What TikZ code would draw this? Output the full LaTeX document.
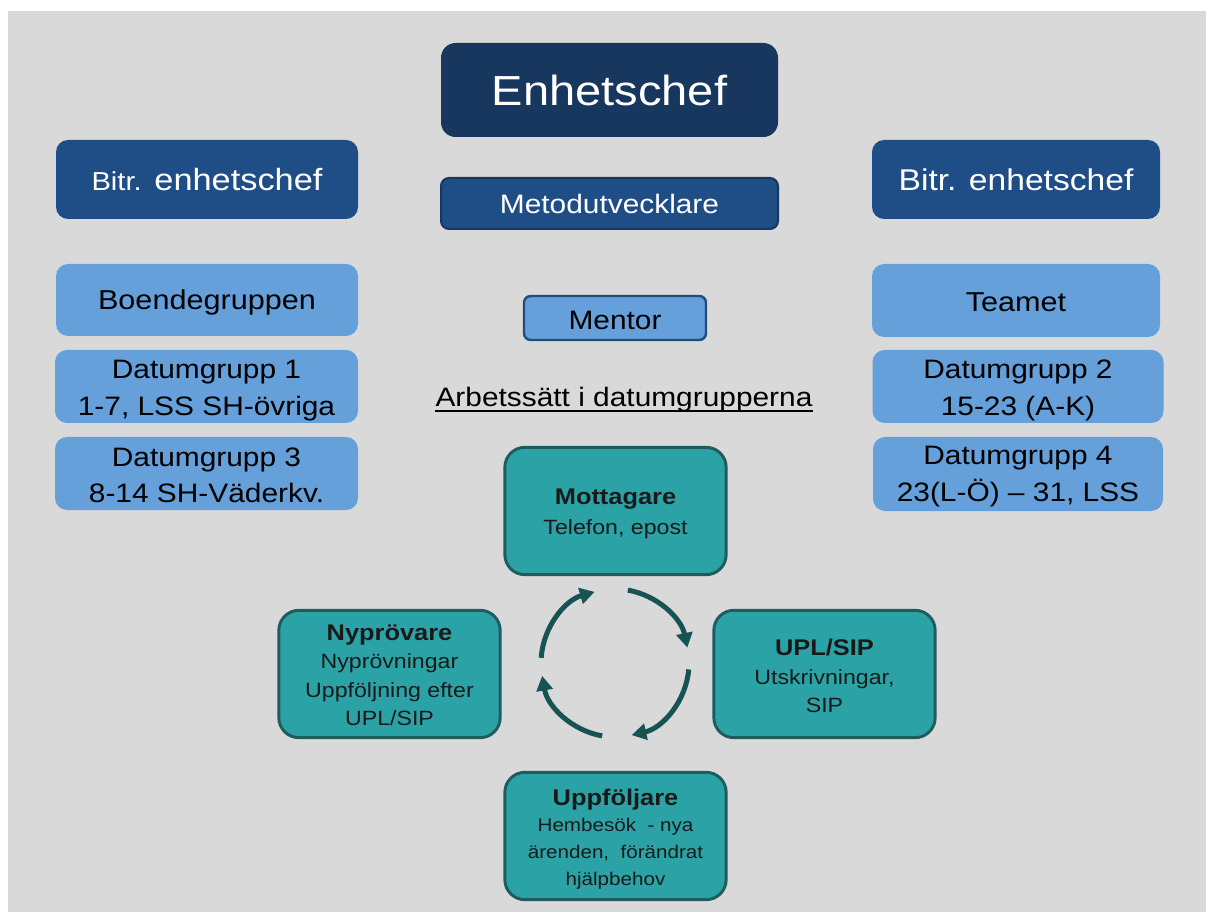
\documentclass[tikz,border=0pt]{standalone}
\usepackage{fontspec}
\setmainfont{Liberation Sans}[FakeStretch=1.12]
\usetikzlibrary{arrows.meta}
\definecolor{bgc}{HTML}{D9D9D9}
\definecolor{navy}{HTML}{17375E}
\definecolor{midblue}{HTML}{1F4E87}
\definecolor{lightblue}{HTML}{65A0DB}
\definecolor{mentorb}{HTML}{1F4E79}
\definecolor{tealf}{HTML}{2BA3A6}
\definecolor{tealb}{HTML}{1E5C5E}
\definecolor{arrowc}{HTML}{175352}
\tikzset{
  box/.style={inner sep=0pt, align=center, anchor=center},
  txt/.style={inner sep=0pt, align=center, anchor=center},
  darkbox/.style={box, fill=navy, text=white, rounded corners=11pt},
  midbox/.style={box, fill=midblue, text=white, rounded corners=9pt},
  lightbox/.style={box, fill=lightblue, text=black, rounded corners=9pt},
  tealbox/.style={box, fill=tealf, draw=tealb, line width=2.2pt, text=black!90,
     rounded corners=15pt, minimum width=166pt, minimum height=95.5pt},
  cyc/.style={line width=3.75pt, draw=arrowc, -{Triangle[length=11pt,width=12pt]}},
}
\begin{document}
\begin{tikzpicture}[x=0.75pt,y=-0.75pt]
\useasboundingbox (0,0) rectangle (1206,912);
\fill[white] (0,0) rectangle (1206,912);
\fill[bgc] (8,11) rectangle (1206,912);

% top
\node[darkbox, minimum width=252.75pt, minimum height=70.5pt,
  font=\fontsize{31.5}{36}\selectfont] (enh) at (609.5,90) {Enhetschef};
\node[box, fill=midblue, draw=navy, line width=1.5pt, text=white, rounded corners=6pt,
  minimum width=252.75pt, minimum height=38.25pt,
  font=\fontsize{20}{24}\selectfont] (met) at (609.5,203.5) {Metodutvecklare};

\node[midbox, minimum width=226.5pt, minimum height=59.25pt,
  font=\fontsize{23}{27}\selectfont] (bitL) at (207,179.5)
  {{\fontsize{19.5}{22}\selectfont Bitr.} enhetschef};
\node[midbox, minimum width=216pt, minimum height=59.25pt,
  font=\fontsize{22.5}{27}\selectfont] (bitR) at (1016,179.5) {Bitr. enhetschef};

% light blue
\node[lightbox, minimum width=226.5pt, minimum height=54pt] (boen) at (207,300) {};
\node[txt, font=\fontsize{20.5}{25}\selectfont] (boent) at ([yshift=-2.2pt]boen.center) {Boendegruppen};
\node[lightbox, minimum width=216pt, minimum height=54.75pt] (team) at (1016,300.5) {};
\node[txt, font=\fontsize{20.5}{25}\selectfont] (teamt) at ([yshift=-1.5pt]team.center) {Teamet};

\node[lightbox, minimum width=227.25pt, minimum height=54.75pt] (dg1) at (206.5,386.5) {};
\node[txt, font=\fontsize{20}{27.5}\selectfont] (dg1t) at ([yshift=-3.2pt]dg1.center)
  {Datumgrupp 1\\1-7, LSS SH-övriga};
\node[lightbox, minimum width=227.25pt, minimum height=54.75pt] (dg3) at (206.5,473.5) {};
\node[txt, font=\fontsize{20}{27.5}\selectfont] (dg3t) at ([yshift=-1.3pt]dg3.center)
  {Datumgrupp 3\\8-14 SH-Väderkv.};
\node[lightbox, minimum width=218.25pt, minimum height=54.75pt] (dg2) at (1018,386.5) {};
\node[txt, font=\fontsize{20}{27.5}\selectfont] (dg2t) at ([yshift=-3.2pt]dg2.center)
  {Datumgrupp 2\\15-23 (A-K)};
\node[lightbox, minimum width=217.5pt, minimum height=55.5pt] (dg4) at (1018,474) {};
\node[txt, font=\fontsize{20}{27.5}\selectfont] (dg4t) at ([yshift=-2pt]dg4.center)
  {Datumgrupp 4\\23(L-Ö) – 31, LSS};

\node[box, fill=lightblue, draw=mentorb, line width=1.8pt, rounded corners=5pt,
  minimum width=136.5pt, minimum height=33pt] (mentor) at (615,318) {};
\node[txt, font=\fontsize{20}{24}\selectfont] (mentort) at ([yshift=-1.5pt]mentor.center) {Mentor};

\node[txt, font=\fontsize{20}{24}\selectfont] (arb) at (624,399.5) {Arbetssätt i datumgrupperna};
\draw[line width=1.1pt] ([yshift=-3.5pt]arb.base west) -- ([yshift=-3.5pt]arb.base east);

% teal cycle
\node[tealbox] (mott) at (615.5,511) {};
\node[txt, text=black!90, font=\fontsize{15.5}{22.5}\selectfont] (mottt) at ([yshift=-2.5pt]mott.center)
  {{\bfseries\fontsize{17}{22.5}\selectfont Mottagare}\\Telefon, epost};
\node[tealbox] (upl) at (824.5,674) {};
\node[txt, text=black!90, font=\fontsize{15.5}{21.5}\selectfont] (uplt) at ([yshift=-1.5pt]upl.center)
  {{\bfseries\fontsize{17}{23}\selectfont UPL/SIP}\\Utskrivningar,\\SIP};
\node[tealbox] (nyp) at (389.5,674) {};
\node[txt, text=black!90, font=\fontsize{15.5}{21.4}\selectfont] (nypt) at ([yshift=-0.8pt]nyp.center)
  {{\bfseries\fontsize{17}{21.4}\selectfont Nyprövare}\\Nyprövningar\\Uppföljning efter\\UPL/SIP};
\node[tealbox] (uppf) at (615.5,836) {};
\node[txt, text=black!90, font=\fontsize{13.8}{20}\selectfont] (uppft) at ([yshift=-2.2pt]uppf.center)
  {{\bfseries\fontsize{17}{21.5}\selectfont Uppföljare}\\Hembesök~ - nya\\ärenden,~ förändrat\\hjälpbehov};

\coordinate (c) at (615,663);
\draw[cyc] (c) ++(-80:74) arc[start angle=-80, end angle=-12, radius=74];
\draw[cyc] (c) ++(5:74) arc[start angle=5, end angle=77, radius=74];
\draw[cyc] (c) ++(100:74) arc[start angle=100, end angle=170, radius=74];
\draw[cyc] (c) ++(-176:74) arc[start angle=-176, end angle=-106, radius=74];
\end{tikzpicture}
\end{document}
